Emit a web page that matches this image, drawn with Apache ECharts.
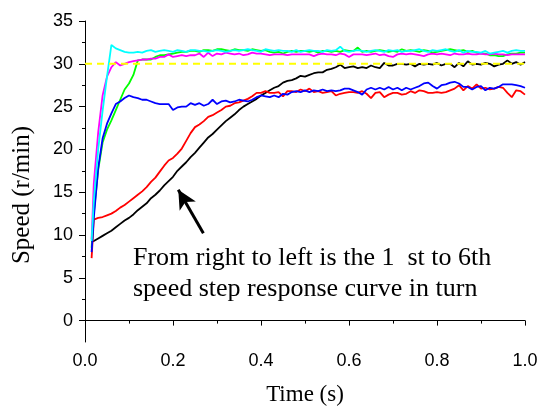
<!DOCTYPE html>
<html>
<head>
<meta charset="utf-8">
<script src="https://cdn.jsdelivr.net/npm/echarts@6/dist/echarts.min.js"></script>
<style>
html,body{margin:0;padding:0;background:#fff;}
#main{width:539px;height:407px;}
</style>
</head>
<body>
<div id="main"></div>
<script>
// sample times (s)
var time = [0.015,0.02,0.03,0.04,0.05,0.06,0.07,0.08,0.09,0.10,
	0.11,0.12,0.13,0.14,0.15,0.16,0.17,0.18,0.19,0.20,
	0.21,0.22,0.23,0.24,0.25,0.26,0.27,0.28,0.29,0.30,
	0.31,0.32,0.33,0.34,0.35,0.36,0.37,0.38,0.39,0.40,
	0.41,0.42,0.43,0.44,0.45,0.46,0.47,0.48,0.49,0.50,
	0.51,0.52,0.53,0.54,0.55,0.56,0.57,0.58,0.59,0.60,
	0.61,0.62,0.63,0.64,0.65,0.66,0.67,0.68,0.69,0.70,
	0.71,0.72,0.73,0.74,0.75,0.76,0.77,0.78,0.79,0.80,
	0.81,0.82,0.83,0.84,0.85,0.86,0.87,0.88,0.89,0.90,
	0.91,0.92,0.93,0.94,0.95,0.96,0.97,0.98,0.99,1.00];

var speedBlack = [9.2,9.3,9.6,9.9,10.2,10.5,10.9,11.3,11.7,12.0,
	12.4,12.9,13.3,13.7,14.3,14.7,15.2,15.8,16.3,16.8,
	17.5,18.0,18.5,19.1,19.6,20.2,20.8,21.4,21.8,22.3,
	22.8,23.3,23.7,24.1,24.6,25.0,25.3,25.6,25.9,26.3,
	26.6,26.9,27.2,27.4,27.8,28.0,28.1,28.3,28.6,28.5,
	28.7,28.9,29.0,29.0,29.3,29.4,29.6,29.9,29.5,29.6,
	29.7,29.5,29.6,29.5,29.8,29.6,29.5,30.1,29.8,29.8,
	30.0,30.0,29.9,30.0,29.7,30.0,29.9,30.0,29.9,30.1,
	29.8,30.0,30.0,29.6,30.1,29.7,30.3,29.9,30.0,29.9,
	30.1,30.0,29.7,29.9,30.0,30.4,30.0,30.2,29.9,30.2];

var speedRed = [7.3,11.8,12.0,12.1,12.3,12.5,12.8,13.2,13.5,13.9,
	14.3,14.7,15.1,15.6,16.2,16.7,17.4,18.1,18.7,19.0,
	19.5,20.1,21.0,21.9,22.6,22.9,23.3,23.8,24.0,24.3,
	24.6,25.0,25.1,25.4,25.5,25.7,25.9,26.2,26.6,26.6,
	26.8,26.6,26.6,26.7,26.2,26.8,26.8,26.7,27.0,26.8,
	27.1,26.7,26.8,26.6,26.7,26.8,26.3,26.5,26.6,26.7,
	26.7,26.6,26.8,26.5,26.0,26.6,26.7,26.1,26.4,26.6,
	26.6,26.4,26.5,26.8,26.6,26.9,26.8,26.6,26.6,26.7,
	26.6,26.7,26.9,27.1,27.5,26.9,27.4,27.1,27.6,27.1,
	27.2,27.0,27.1,27.3,27.2,26.6,26.1,26.9,26.8,26.4];

var speedGreen = [8.5,12.5,17.6,20.8,22.3,23.4,24.6,25.8,27.0,27.7,
	28.7,30.4,30.5,30.5,30.5,30.8,31.0,31.0,31.1,31.2,
	31.3,31.4,31.4,31.5,31.5,31.4,31.6,31.6,31.5,31.7,
	31.7,31.6,31.5,31.7,31.6,31.6,31.5,31.7,31.6,31.5,
	31.6,31.4,31.3,31.4,31.2,31.4,31.5,31.4,31.5,31.5,
	31.4,31.5,31.3,31.5,31.5,31.4,31.5,31.4,31.6,31.5,
	31.5,31.9,31.4,31.5,31.4,31.5,31.6,31.5,31.4,31.5,
	31.4,31.7,31.5,31.6,31.5,31.4,31.6,31.5,31.3,31.4,
	31.5,31.6,31.7,31.6,31.5,31.6,31.4,31.5,31.3,31.2,
	31.2,31.0,31.0,30.9,30.9,31.1,31.2,31.2,31.3,31.3];

var speedBlue = [8.0,12.0,17.8,21.3,23.0,24.2,25.3,25.6,26.0,26.3,
	26.1,26.0,25.8,25.8,25.6,25.4,25.3,25.3,25.3,24.6,
	24.9,25.0,25.0,25.4,25.2,25.4,25.1,25.3,25.8,25.3,
	25.6,25.7,25.5,25.6,25.8,25.7,25.6,25.8,26.1,26.3,
	26.2,26.1,26.3,26.1,26.5,26.4,26.7,26.8,26.7,26.9,
	26.7,26.9,26.8,27.0,26.8,26.9,26.8,26.9,27.1,27.1,
	26.9,26.7,26.4,27.0,27.2,27.0,27.2,27.0,27.3,27.0,
	27.2,26.9,27.2,27.0,27.2,27.4,27.7,27.8,27.4,27.1,
	27.5,27.6,27.8,27.9,27.7,27.3,27.3,27.0,27.3,27.4,
	26.9,27.2,27.1,27.3,27.6,27.6,27.6,27.5,27.4,27.2];

var speedMagenta = [9.5,16.0,22.0,26.3,28.5,29.6,30.2,29.8,30.0,30.2,
	30.3,30.4,30.5,30.5,30.6,30.6,30.8,30.8,31.1,30.8,
	30.9,31.0,30.9,31.0,31.0,31.2,30.8,31.3,30.9,31.2,
	31.1,31.3,31.2,31.1,31.2,31.0,31.1,31.3,31.2,31.2,
	31.1,31.0,31.1,31.1,31.1,31.0,31.1,31.1,31.1,31.1,
	31.1,30.9,31.1,31.2,31.1,31.1,31.0,31.2,31.1,30.8,
	31.1,31.1,31.1,31.0,31.1,31.2,31.0,31.1,30.9,30.8,
	31.1,31.2,31.1,31.2,31.1,31.0,30.9,31.1,31.2,31.1,
	31.2,31.1,31.0,31.2,31.1,31.1,31.2,31.1,31.1,31.2,
	31.1,31.1,31.2,31.1,31.1,31.0,31.1,31.1,31.1,31.1];

var speedCyan = [9.3,14.0,20.0,24.5,28.5,32.2,31.8,31.6,31.4,31.3,
	31.3,31.4,31.3,31.5,31.6,31.4,31.5,31.6,31.5,31.4,
	31.6,31.5,31.4,31.6,31.6,31.5,31.5,31.4,31.5,31.6,
	31.5,31.4,31.5,31.6,31.5,31.6,31.7,31.6,31.5,31.4,
	31.7,31.6,31.5,31.6,31.5,31.5,31.4,31.6,31.4,31.5,
	31.6,31.5,31.5,31.4,31.6,31.5,31.6,32.0,31.5,31.4,
	31.5,31.6,31.5,31.4,31.5,31.6,31.5,31.4,31.6,31.5,
	31.6,31.4,31.5,31.5,31.6,31.7,31.5,31.4,31.6,31.5,
	31.6,31.7,31.5,31.4,31.6,31.3,31.5,31.4,31.4,31.3,
	31.5,31.2,31.3,31.4,31.5,31.3,31.5,31.6,31.5,31.5];

var refTime = [0, 1];
var refSpeed = [30, 30];

var yMajor = [0, 5, 10, 15, 20, 25, 30, 35];
var yMinor = [2.5, 7.5, 12.5, 17.5, 22.5, 27.5, 32.5];

var yTitle = 'Speed (r/min)';
var noteLines = ['From right to left is the 1  st to 6th', 'speed step response curve in turn'];
// arrow tail and head in data units
var arrowFrom = [0.269, 10.2];
var arrowTo = [0.212, 15.3];

function pairs(xs, ys) {
	var out = [];
	for (var i = 0; i < ys.length; i++) out.push([xs[i], ys[i]]);
	return out;
}

function lineSeries(ys, color, xs) {
	return {
		type: 'line',
		data: pairs(xs || time, ys),
		showSymbol: false,
		symbol: 'none',
		lineStyle: { color: color, width: 1.8 },
		itemStyle: { color: color },
		z: 2
	};
}

var chart = echarts.init(document.getElementById('main'), null, { renderer: 'canvas' });

var serif = "'Liberation Serif', 'Times New Roman', serif";
var sans = "'Liberation Sans', Arial, sans-serif";

var blackSeries = lineSeries(speedBlack, '#000000');
blackSeries.markLine = {
	silent: true,
	symbol: ['none', 'arrow'],
	symbolSize: [14, 19],
	label: { show: false },
	lineStyle: { color: '#000', width: 3, type: 'solid' },
	data: [[{ coord: arrowFrom }, { coord: arrowTo }]]
};

var refSeries = lineSeries(refSpeed, '#ffff00', refTime);
refSeries.lineStyle.type = [7, 5];
refSeries.lineStyle.width = 2;

var option = {
	animation: false,
	backgroundColor: '#fff',
	grid: { left: 85, right: 14, top: 21, bottom: 65, containLabel: false, outerBoundsMode: 'none' },
	xAxis: {
		type: 'value',
		min: 0,
		max: 1,
		interval: 0.2,
		name: 'Time (s)',
		nameLocation: 'middle',
		nameGap: 41,
		nameTextStyle: { fontFamily: serif, fontSize: 23, color: '#000' },
		axisLine: { lineStyle: { color: '#000', width: 1 } },
		axisTick: { length: 5, lineStyle: { color: '#000' } },
		minorTick: { show: true, splitNumber: 2, length: 3, lineStyle: { color: '#000' } },
		splitLine: { show: false },
		axisLabel: {
			fontFamily: sans, fontSize: 18, color: '#000', margin: 10,
			formatter: function (v) { return v.toFixed(1); }
		}
	},
	yAxis: [{
		type: 'value',
		min: -2.5,
		max: 35,
		axisLine: { show: true, lineStyle: { color: '#000', width: 1 } },
		axisTick: { show: true, length: 6, customValues: yMajor, lineStyle: { color: '#000' } },
		splitLine: { show: false },
		axisLabel: {
			fontFamily: sans, fontSize: 18, color: '#000', margin: 12,
			customValues: yMajor
		}
	}, {
		type: 'value',
		min: -2.5,
		max: 35,
		position: 'left',
		axisLine: { show: false },
		axisTick: { show: true, length: 3, customValues: yMinor, lineStyle: { color: '#000' } },
		axisLabel: { show: false },
		splitLine: { show: false }
	}],
	graphic: [{
		type: 'text',
		x: 22,
		y: 195,
		rotation: Math.PI / 2,
		style: {
			text: yTitle,
			font: '25px ' + serif,
			align: 'center',
			verticalAlign: 'middle',
			fill: '#000'
		}
	}, {
		type: 'text',
		left: 133,
		top: 243,
		style: {
			text: noteLines.join('\n'),
			font: '26px ' + serif,
			lineHeight: 31,
			fill: '#000'
		}
	}],
	series: [
		blackSeries,
		lineSeries(speedRed, '#ff0000'),
		lineSeries(speedGreen, '#00ff00'),
		lineSeries(speedBlue, '#0000ff'),
		lineSeries(speedMagenta, '#ff00ff'),
		lineSeries(speedCyan, '#00ffff'),
		refSeries
	]
};

chart.setOption(option);
</script>
</body>
</html>
